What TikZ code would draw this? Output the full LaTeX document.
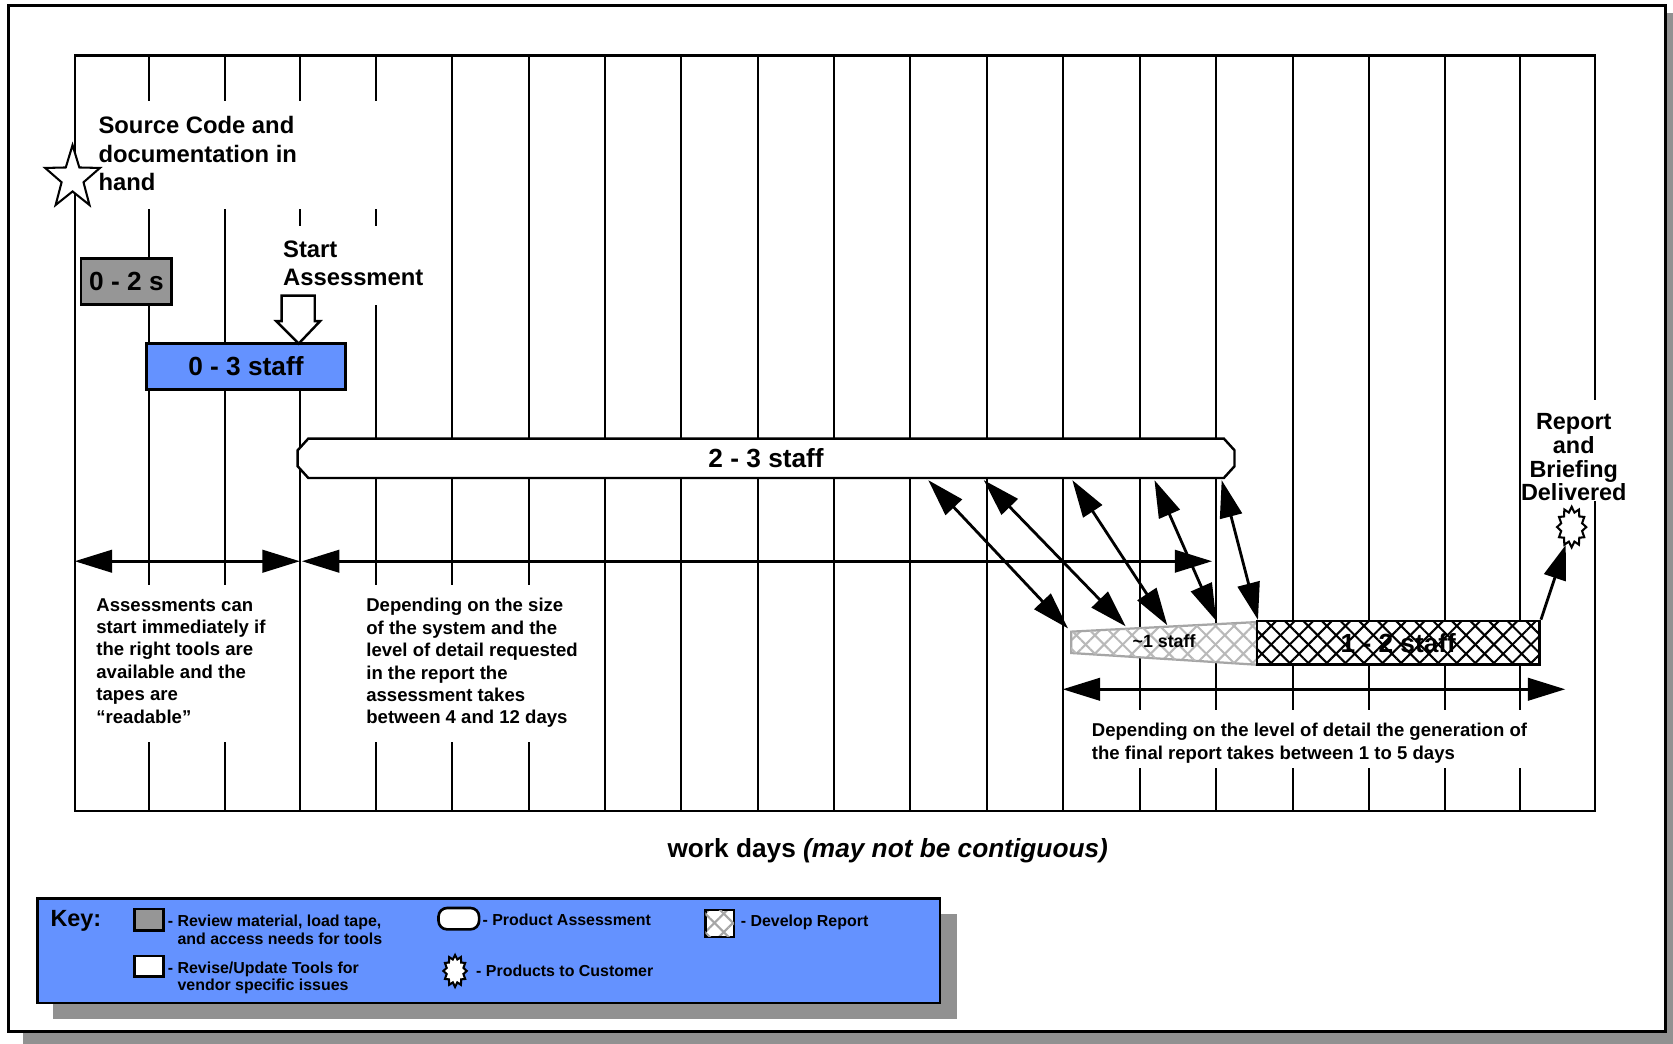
\documentclass[tikz,border=0pt]{standalone}
\usepackage{fontspec}
\setmainfont{Liberation Sans}
\usetikzlibrary{shapes.geometric, arrows.meta, patterns.meta, calc}
\definecolor{keyblue}{RGB}{100,146,255}
\definecolor{keygray}{RGB}{150,150,150}
\definecolor{shadowgray}{RGB}{145,145,145}
\tikzset{
  schgrid/.style  = {line width=1.1pt, draw=black},
  schmask/.style  = {fill=white, draw=none},
  schhead/.style  = {font=\bfseries\fontsize{12.7}{15.1}\selectfont,
                     align=left, inner sep=0pt},
  schnote/.style  = {font=\bfseries\fontsize{9.9}{11.95}\selectfont,
                     align=left, inner sep=0pt, anchor=north west},
  schbig/.style   = {font=\bfseries\fontsize{14}{16}\selectfont, inner sep=0pt},
  schbox/.style   = {schbig, draw, line width=1.4pt, minimum height=0.86cm},
  schbar/.style   = {draw, line width=1.3pt, fill=white},
  schhatch/.style = {preaction={fill=white},
                     pattern={Lines[angle=45,distance=7pt,line width=1.1pt]},
                     pattern color=#1,
                     postaction={pattern={Lines[angle=-45,distance=7pt,line width=1.1pt]}}},
  scharrow/.style = {<->, >={Triangle[length=7mm,width=4.2mm]}, line width=1.5pt},
  schpoint/.style = {->, >={Triangle[length=6.5mm,width=4.2mm]}, line width=1.5pt},
  schburst/.style = {star, star points=12, star point ratio=1.35, draw, fill=white,
                     line width=1.1pt, inner sep=0pt},
  keytext/.style  = {font=\bfseries\fontsize{8.5}{9.45}\selectfont,
                     align=left, inner sep=0pt},
  keysym/.style   = {draw, line width=1.4pt},
}

\begin{document}
\begin{tikzpicture}[x=0.02cm, y=-0.02cm]
  \useasboundingbox (0,0) rectangle (1568,978);
  % page frame with its shadow
  \fill[shadowgray] (22,12) rectangle (1568,978);
  \draw[line width=1.4pt, fill=white] (8,5) rectangle (1561,967);

  % work day columns
  \draw[schgrid] (70,52) rectangle (1495,760);
  \foreach \d in {140,211,281,352,424,496,567,638,710,782,853,925,996,1068,1140,
                  1212,1283,1354,1425}
    \draw[schgrid] (\d,52) -- (\d,760);

  % white boxes behind the texts
  \fill[schmask] (73,95) rectangle (420,196);
  \fill[schmask] (230,212) rectangle (420,286);
  \fill[schmask] (75,548) rectangle (276,695);
  \fill[schmask] (290,548) rectangle (560,695);
  \fill[schmask] (1003,665) rectangle (1490,720);
  \fill[schmask] (1440,375) rectangle (1528,470);

  \node[star, star points=5, star point ratio=2.5, draw, fill=white, line width=1.1pt,
        inner sep=0pt, minimum size=1.08cm, yscale=1.15] (src) at (68,167) {};
  \node[schhead, anchor=north west] (srclab) at (92,109)
        {Source Code and\\documentation in\\hand};
  \node[schhead, anchor=north west] (startlab) at (265,225) {Start\\Assessment};

  \node[schbox, fill=keygray, minimum width=1.7cm] (review) at (118.5,264) {0 - 2 s};
  \node[schbox, fill=keyblue, minimum width=3.74cm] (tools) at (230.5,343.5) {0 - 3 staff};
  \draw[line width=1.3pt, fill=white] (264,277) -- (295,277) -- (295,301) -- (300,301)
        -- (280,322) -- (259,301) -- (264,301) -- cycle;

  % product assessment
  \draw[schbar] (289,411) -- (1147,411) -- (1157,422) -- (1157,437) -- (1147,448)
        -- (289,448) -- (279,437) -- (279,422) -- cycle;
  \node[schbig] (assess) at (718,429.5) {2 - 3 staff};

  % develop report
  \draw[draw=gray!70, line width=1.2pt, schhatch=gray!55]
        (1004,592) -- (1178,583) -- (1178,623) -- (1004,612) -- cycle;
  \node[font=\bfseries\fontsize{9.5}{11}\selectfont, inner sep=0pt] (draft)
        at (1091,601) {\textasciitilde1 staff};
  \node[schbig, draw, line width=1.4pt, schhatch=black, minimum width=5.3cm,
        minimum height=0.82cm] (rep) at (1310.5,602.5) {1 - 2 staff};

  \node[schhead, align=center, anchor=north, font=\bfseries\fontsize{12.5}{12.7}\selectfont]
        (deliv) at (1475,387) {Report\\and\\Briefing\\Delivered};
  \node[schburst, minimum size=0.76cm, xscale=0.72] (burst) at (1473,494) {};

  % durations
  \coordinate (d0) at (70,526);
  \coordinate (d1) at (281,526);
  \coordinate (d2) at (283,526);
  \coordinate (d3) at (1136,526);
  \coordinate (d4) at (996,646);
  \coordinate (d5) at (1467,646);
  \draw[scharrow] (d0) -- (d1);
  \draw[scharrow] (d2) -- (d3);
  \draw[scharrow] (d4) -- (d5);

  \foreach \ux/\lx/\ly [count=\k] in {870/1001/589, 922/1055/587, 1005/1094/586,
                                      1082/1140/582, 1145/1179/581} {
    \coordinate (up\k) at (\ux,450);
    \coordinate (lo\k) at (\lx,\ly);
    \draw[scharrow] (up\k) -- (lo\k);
  }
  \draw[schpoint] (rep.north east) -- (burst);

  \node[schnote] (note1) at (90,560.5) {Assessments can\\start immediately if\\the right tools are\\%
        available and the\\tapes are\\“readable”};
  \node[schnote] (note2) at (343,560.5) {Depending on the size\\of the system and the\\%
        level of detail requested\\in the report the\\assessment takes\\between 4 and 12 days};
  \node[schnote] (note3) at (1023,677.5) {Depending on the level of detail the generation of\\%
        the final report takes between 1 to 5 days};

  \node[schbig, anchor=base] (axis) at (832,804) {work days \textit{(may not be contiguous)}};

  % key
  \fill[shadowgray] (50,857) rectangle (897,955);
  \draw[line width=1.4pt, fill=keyblue] (35,842) rectangle (881,940);
  \node[font=\bfseries\fontsize{12.5}{14}\selectfont, inner sep=0pt, anchor=base west]
        (keylab) at (47,868) {Key:};
  \draw[keysym, fill=keygray] (126,852) rectangle (153,872);
  \node[keytext, anchor=north west] (k1) at (157,857)
        {- Review material, load tape,\\\phantom{- }and access needs for tools};
  \draw[keysym, fill=white] (126,896) rectangle (153,915);
  \node[keytext, anchor=north west] (k2) at (157,901)
        {- Revise/Update Tools for\\\phantom{- }vendor specific issues};
  \draw[keysym, fill=white, rounded corners=0.16cm] (411,851) rectangle (449,871);
  \node[keytext, anchor=base west] (k3) at (452,867) {- Product Assessment};
  \node[schburst, minimum size=0.6cm, xscale=0.73] (kburst) at (426.5,910) {};
  \node[keytext, anchor=base west] (k4) at (446,915) {- Products to Customer};
  \draw[keysym, schhatch=gray!70] (661,853) rectangle (688,878);
  \node[keytext, anchor=base west] (k5) at (694,868.5) {- Develop Report};
\end{tikzpicture}
\end{document}
